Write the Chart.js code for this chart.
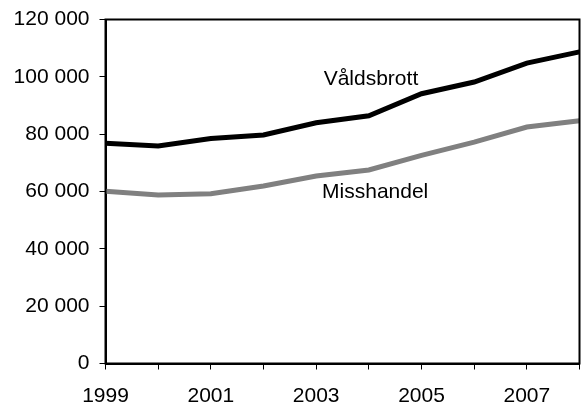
<!DOCTYPE html>
<html lang="sv">
<head>
  <meta charset="UTF-8">
  <title>Våldsbrott och misshandel 1999–2008</title>
  <script src="https://cdn.jsdelivr.net/npm/chart.js"></script>
  <style>
    html, body { margin: 0; padding: 0; background: #fff; }
    #wrap { width: 581px; height: 408px; }
  </style>
</head>
<body>
  <div id="wrap"><canvas id="chart"></canvas></div>

  <script>
    // data
    const years = ['1999','2000','2001','2002','2003','2004','2005','2006','2007','2008'];
    const valdsbrott = [76800, 75900, 78500, 79700, 84000, 86400, 94100, 98200, 104800, 108700];
    const misshandel = [60100, 58800, 59200, 61900, 65400, 67500, 72600, 77200, 82500, 84700];
    const yTicks = [0, 20000, 40000, 60000, 80000, 100000, 120000];

    // series name labels: [x index, y value]
    const seriesNames = ['Våldsbrott', 'Misshandel'];
    const namePos = [[5.04, 99000], [5.12, 59800]];

    const fontFam = '"Liberation Sans", Arial, sans-serif';

    // frame round the plot area + series names
    const frameAndNames = {
      id: 'frameAndNames',
      afterDraw(chart) {
        const { ctx, chartArea: a, scales } = chart;
        ctx.save();
        ctx.strokeStyle = '#000';
        ctx.lineWidth = 2;
        ctx.strokeRect(a.left, a.top, a.right - a.left, a.bottom - a.top);
        ctx.fillStyle = '#000';
        ctx.font = '21px ' + fontFam;
        ctx.textAlign = 'center';
        ctx.textBaseline = 'middle';
        seriesNames.forEach((n, i) => {
          const x = scales.x.getPixelForValue(namePos[i][0]);
          const y = scales.y.getPixelForValue(namePos[i][1]);
          ctx.fillText(n, x, y);
        });
        ctx.restore();
      }
    };

    new Chart(document.getElementById('chart'), {
      type: 'line',
      data: {
        labels: years,
        datasets: [
          { label: 'Våldsbrott', data: valdsbrott, borderColor: '#000', borderWidth: 5, pointRadius: 0, tension: 0 },
          { label: 'Misshandel', data: misshandel, borderColor: '#808080', borderWidth: 5, pointRadius: 0, tension: 0 }
        ]
      },
      options: {
        responsive: true,
        maintainAspectRatio: false,
        animation: false,
        layout: { padding: { top: 19.5, right: 1.5, left: 0, bottom: 0 } },
        plugins: { legend: { display: false }, tooltip: { enabled: false } },
        scales: {
          x: {
            offset: false,
            grid: { drawOnChartArea: false, drawTicks: true, tickLength: 6, color: '#000', lineWidth: 1 },
            border: { display: true, color: '#000', width: 2 },
            ticks: {
              autoSkip: false, maxRotation: 0, color: '#000', padding: 14,
              font: { family: fontFam, size: 21 },
              callback: (v, i) => (i % 2 === 0 ? years[i] : '')
            },
            afterFit: s => { s.height = 44.5; s.paddingLeft = 0; s.paddingRight = 0; }
          },
          y: {
            min: 0, max: 120000,
            afterBuildTicks: s => { s.ticks = yTicks.map(v => ({ value: v })); },
            grid: { drawOnChartArea: false, drawTicks: true, tickLength: 6, color: '#000', lineWidth: 1 },
            border: { display: true, color: '#000', width: 2 },
            ticks: {
              color: '#000', padding: 10,
              font: { family: fontFam, size: 21 },
              callback: v => String(v).replace(/\B(?=(\d{3})+(?!\d))/g, ' ')
            },
            afterFit: s => { s.width = 105.5; s.paddingTop = 0; s.paddingBottom = 0; }
          }
        }
      },
      plugins: [frameAndNames]
    });
  </script>
</body>
</html>
